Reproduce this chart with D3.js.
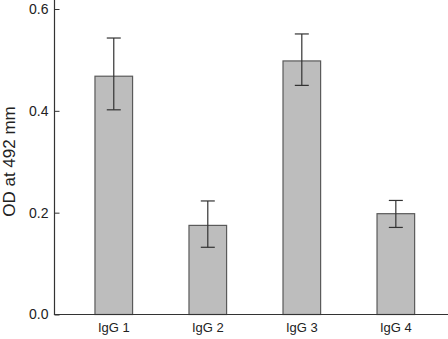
<!DOCTYPE html>
<html>
<head>
<meta charset="utf-8">
<script src="https://cdn.jsdelivr.net/npm/d3@7"></script>
<style>
  html, body { margin: 0; padding: 0; background: #fff; }
  svg { display: block; font-family: "Liberation Sans", Arial, sans-serif; }
</style>
</head>
<body>
<svg id="chart" width="448" height="339"></svg>
<script>
const categories = ["IgG 1", "IgG 2", "IgG 3", "IgG 4"];
const means = [0.468, 0.175, 0.498, 0.198];
const upper = [0.543, 0.223, 0.551, 0.224];
const lower = [0.402, 0.132, 0.450, 0.171];
const yTicks = [0.0, 0.2, 0.4, 0.6];
const yLabel = "OD at 492 mm";

const svg = d3.select("#chart");
const axisX = 54.5, baseY = 314.5;

const x = d3.scaleBand().domain(categories).range([55, 448])
  .paddingInner(0.6).paddingOuter(0.39).align(0.545);
const y = d3.scaleLinear().domain([0, 0.6]).range([baseY, 9]);

// bars
svg.append("g").selectAll("rect").data(categories).join("rect")
  .attr("x", d => x(d))
  .attr("y", (d, i) => y(means[i]))
  .attr("width", x.bandwidth())
  .attr("height", (d, i) => baseY - y(means[i]))
  .attr("fill", "#bdbdbd")
  .attr("stroke", "#5a5a5a")
  .attr("stroke-width", 1.2);

// error bars
const eb = svg.append("g").attr("stroke", "#333").attr("stroke-width", 1.2);
categories.forEach((c, i) => {
  const cx = x(c) + x.bandwidth() / 2;
  eb.append("line").attr("x1", cx).attr("x2", cx).attr("y1", y(upper[i])).attr("y2", y(lower[i]));
  eb.append("line").attr("x1", cx - 7).attr("x2", cx + 7).attr("y1", y(upper[i])).attr("y2", y(upper[i]));
  eb.append("line").attr("x1", cx - 7).attr("x2", cx + 7).attr("y1", y(lower[i])).attr("y2", y(lower[i]));
});

// y axis
const yAxis = d3.axisRight(y).tickValues(yTicks).tickFormat(d3.format(".1f")).tickSize(5).tickPadding(0);
const gy = svg.append("g").attr("transform", `translate(${axisX},0)`).call(yAxis);
gy.select(".domain").remove();
gy.selectAll(".tick line").attr("stroke", "#333");
gy.selectAll(".tick text")
  .attr("x", -6).attr("text-anchor", "end")
  .attr("font-size", 14).attr("fill", "#222")
  .attr("font-family", "'Liberation Sans', Arial, sans-serif");
svg.append("line").attr("x1", axisX).attr("x2", axisX).attr("y1", 0).attr("y2", baseY)
  .attr("stroke", "#333").attr("stroke-width", 1.2);

// x axis
const xAxis = d3.axisBottom(x).tickSize(0).tickPadding(8);
const gx = svg.append("g").attr("transform", `translate(0,${baseY})`).call(xAxis);
gx.select(".domain").remove();
gx.selectAll(".tick text").attr("font-size", 13).attr("fill", "#222")
  .attr("font-family", "'Liberation Sans', Arial, sans-serif");
svg.append("line").attr("x1", axisX - 0.6).attr("x2", 448).attr("y1", baseY).attr("y2", baseY)
  .attr("stroke", "#333").attr("stroke-width", 1.2);

// y label
svg.append("text")
  .attr("transform", `translate(15,161.5) rotate(-90)`)
  .attr("text-anchor", "middle")
  .attr("font-size", 17)
  .attr("fill", "#222")
  .text(yLabel);
</script>
</body>
</html>
